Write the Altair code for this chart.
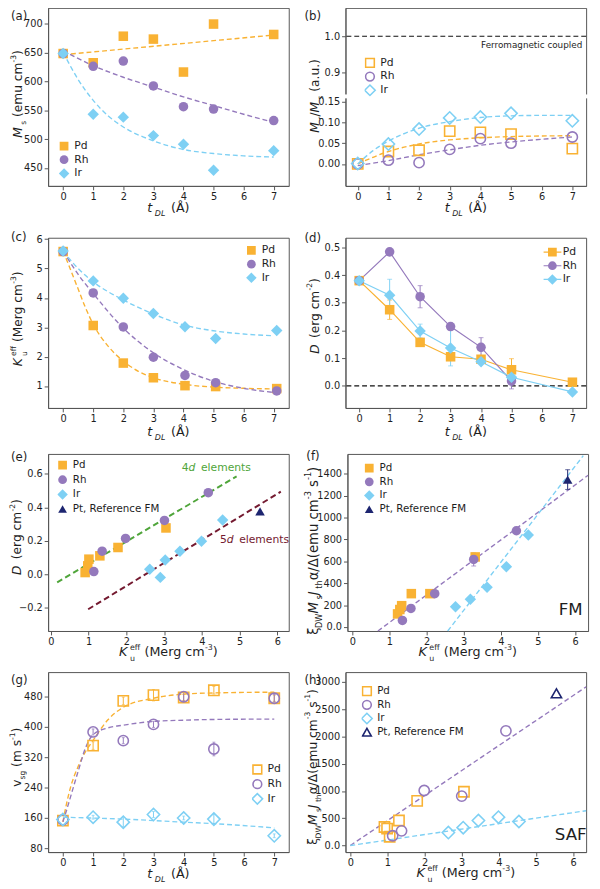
import altair as alt
import pandas as pd

FONT = "DejaVu Sans"
TXT = "#1e1e1e"
AXC = "#555555"
ORANGE = "#F9B233"
PURPLE = "#9479BC"
BLUE = "#7ED0F4"
NAVY = "#1D2570"
GREEN = "#4FA53A"
DARKRED = "#741A30"

W = 246
H1, H2, H3, H4 = 182, 174, 181, 184

NAMES3 = ["Pd", "Rh", "Ir"]
NAMES4 = ["Pd", "Rh", "Ir", "Pt, Reference FM"]

# ---------------- data ----------------
t_dl = [0, 1, 2, 3, 4, 5, 7]
# (a) Ms
a_pd = [648, 632, 678, 673, 616, 699, 681]
a_rh = [648, 626, 635, 592, 556, 552, 532]
a_ir = [648, 543, 538, 506, 491, 446, 480]
a_fit_pd_x = [0, 7]
a_fit_pd_y = [646, 680]
a_fit_rh_x = [0, 1, 2, 3, 4, 5, 6, 7]
a_fit_rh_y = [653, 627, 607, 590, 573, 558, 543, 529]
a_fit_ir_x = [0, 0.5, 1, 1.5, 2, 3, 4, 5, 6, 7]
a_fit_ir_y = [650, 603, 567, 540, 521, 497, 482, 475, 471, 469]

# (b) Mr/Ms
b_pd = [0.000, 0.030, 0.033, 0.079, 0.076, 0.072, 0.037]
b_rh = [0.000, 0.009, 0.003, 0.035, 0.061, 0.050, 0.065]
b_ir = [0.001, 0.048, 0.084, 0.111, 0.113, 0.122, 0.104]
b_fit_x = [0, 1, 2, 3, 4, 5, 7]
b_fit_pd_y = [0.0, 0.030, 0.048, 0.058, 0.063, 0.066, 0.068]
b_fit_rh_y = [-0.004, 0.008, 0.022, 0.034, 0.045, 0.053, 0.065]
b_fit_ir_x = [0, 0.5, 1, 2, 3, 4, 5, 6, 7]
b_fit_ir_y = [0.0, 0.032, 0.055, 0.086, 0.102, 0.112, 0.116, 0.117, 0.117]

# (c) Ku_eff
c_t = [0, 1, 2, 3, 4.05, 5.07, 7.1]
c_pd = [5.58, 3.06, 1.78, 1.28, 1.01, 0.98, 0.91]
c_rh = [5.58, 4.17, 3.01, 1.98, 1.36, 1.11, 0.83]
c_ir = [5.60, 4.58, 3.99, 3.47, 3.02, 2.62, 2.89]
c_fit_pd_x = [0, 0.25, 0.5, 0.75, 1, 1.5, 2, 2.5, 3, 4, 5, 6, 7]
c_fit_pd_y = [5.6, 4.95, 4.3, 3.65, 3.1, 2.35, 1.85, 1.5, 1.28, 1.06, 0.96, 0.92, 0.9]
c_fit_x = [0, 0.5, 1, 2, 3, 4, 5, 6, 7]
c_fit_rh_y = [5.6, 4.8, 4.15, 2.97, 2.13, 1.56, 1.16, 0.92, 0.78]
c_fit_ir_y = [5.6, 5.0, 4.55, 3.93, 3.45, 3.08, 2.88, 2.77, 2.71]

# (d) D vs t_DL
d_t_rh = [0, 1, 2, 3, 4, 5]
d_pd = [0.380, 0.275, 0.157, 0.105, 0.096, 0.058, 0.013]
d_rh = [0.380, 0.484, 0.322, 0.214, 0.139, 0.017]
d_ir = [0.380, 0.327, 0.198, 0.137, 0.087, 0.031, -0.022]
d_err_pd = [0, 0.035, 0, 0, 0, 0.040, 0]
d_err_rh = [0, 0, 0.040, 0, 0.035, 0.028]
d_err_ir = [0, 0.058, 0.025, 0.065, 0, 0, 0]

# (e) D vs Ku_eff
e_pd_k = [3.05, 1.78, 1.30, 1.01, 0.98, 0.91]
e_pd_d = [0.277, 0.160, 0.110, 0.090, 0.050, 0.010]
e_rh_k = [4.17, 3.01, 1.98, 1.36, 1.14]
e_rh_d = [0.488, 0.322, 0.214, 0.138, 0.016]
e_ir_k = [4.55, 3.99, 3.42, 3.03, 2.62, 2.90]
e_ir_d = [0.325, 0.197, 0.138, 0.085, 0.030, -0.019]
e_pt_k = [5.54]
e_pt_d = [0.376]
e_4d_x = [0.17, 4.92]
e_4d_y = [-0.049, 0.586]
e_5d_x = [0.99, 6.09]
e_5d_y = [-0.21, 0.494]

# (f) FM
f_pd_k = [1.22, 1.28, 1.33, 1.59, 2.09, 3.31]
f_pd_y = [120, 160, 195, 305, 305, 640]
f_rh_k = [1.35, 1.58, 2.22, 3.27, 4.42]
f_rh_y = [60, 170, 305, 617, 879]
f_rh_err = [0, 0, 0, 60, 0]
f_ir_k = [2.78, 3.18, 3.63, 4.15, 4.74]
f_ir_y = [185, 253, 363, 551, 840]
f_pt_k = [5.80]
f_pt_y = [1346]
f_pt_err = [90]
f_fit_rh_x = [0.69, 6.35]
f_fit_rh_y = [-36, 1385]
f_fit_ir_x = [2.57, 6.22]
f_fit_ir_y = [-36, 1564]

# (g) velocity
g_pd = [153, 351, 469, 484, 478, 497, 476]
g_rh = [155, 387, 364, 407, 480, 342, 476]
g_ir = [156, 162, 149, 169, 160, 157, 113]
g_err_pd = [0, 10, 10, 15, 8, 10, 8]
g_err_rh = [0, 8, 8, 8, 12, 18, 10]
g_err_ir = [0, 5, 12, 8, 5, 12, 5]
g_fit_x = [0, 0.1, 0.25, 0.5, 0.75, 1, 1.5, 2, 3, 4, 5, 7]
g_fit_pd_y = [150, 190, 240, 295, 335, 365, 420, 452, 476, 487, 490, 492]
g_fit_rh_y = [150, 175, 215, 282, 345, 380, 398, 405, 415, 418, 420, 421]
g_fit_ir_x = [0, 2, 4, 5, 7]
g_fit_ir_y = [162, 157, 149, 145, 134]

# (h) SAF
h_pd_k = [0.92, 0.99, 1.06, 1.31, 1.80, 3.06]
h_pd_y = [340, 310, 161, 459, 818, 986]
h_rh_k = [4.19, 3.00, 1.99, 1.38, 1.14]
h_rh_y = [2103, 907, 1009, 269, 179]
h_ir_k = [2.64, 3.04, 3.45, 3.99, 4.54]
h_ir_y = [238, 328, 459, 520, 441]
h_pt_k = [5.55]
h_pt_y = [2790]
h_fit_rh_x = [0, 6.35]
h_fit_rh_y = [0, 2910]
h_fit_ir_x = [0, 6.35]
h_fit_ir_y = [0, 638]

# ---------------- helpers ----------------
CW = {' ': .318, '(': .39, ')': .39, '-': .361, '/': .337, '.': .318, ',': .318,
      'a': .613, 'b': .635, 'c': .55, 'd': .635, 'e': .615, 'f': .352, 'g': .635,
      'h': .634, 'i': .278, 'l': .278, 'm': .974, 'n': .634, 'o': .612, 'p': .635,
      'r': .411, 's': .521, 't': .392, 'u': .634, 'v': .592,
      'A': .684, 'Å': .684, 'D': .77, 'F': .575, 'K': .656, 'L': .557, 'M': .863,
      'J': .295, 'W': .989, 'R': .695, 'P': .603,
      'α': .659, 'Δ': .684, 'ξ': .52}
for _d in "0123456789":
    CW[_d] = .636


def tw(s, fs):
    return sum(CW.get(c, .6) for c in s) * fs


SHIFT = {"n": 0.0, "sub": 0.33, "subx": 0.4, "sup": -0.52}


def rich(segs, cx, cy, size, vertical=False, color=TXT):
    pieces = []
    pos = 0.0
    for text, kind, it in segs:
        small = kind != "n"
        fs = size * (0.62 if small else 1.0)
        shift = SHIFT[kind] * size
        lead = len(text) - len(text.lstrip(" "))
        trail = len(text) - len(text.rstrip(" "))
        core = text.strip(" ")
        start = pos + lead * CW[" "] * fs
        pieces.append((core, fs, it, start, shift))
        if kind != "subx":
            pos = start + tw(core, fs) + trail * CW[" "] * fs
            if it:
                pos += 0.2 * fs
    total = pos
    out = []
    for text, fs, it, p, shift in pieces:
        if vertical:
            px, py, ang = cx + 0.36 * size + shift, cy + total / 2 - p, 270
        else:
            px, py, ang = cx - total / 2 + p, cy + 0.36 * size + shift, 0
        out.append(
            alt.Chart(pd.DataFrame({"t": [text]}))
            .mark_text(align="left", baseline="alphabetic", angle=ang, font=FONT,
                       fontSize=fs, fontStyle="italic" if it else "normal", color=color)
            .encode(text="t:N", x=alt.value(px), y=alt.value(py))
        )
    return out


def label(txt, x, y, size=12):
    return (alt.Chart(pd.DataFrame({"t": [txt]}))
            .mark_text(align="left", baseline="middle", font=FONT, fontSize=size, color=TXT)
            .encode(text="t:N", x=alt.value(x), y=alt.value(y)))


def ax(values, fmt=None, expr=None):
    kw = dict(values=values, title=None, grid=False, tickSize=4, tickWidth=1,
              tickColor=AXC, domainColor=AXC, domainWidth=1, labelFont=FONT,
              labelFontSize=10, labelColor=TXT, labelPadding=2, labelFlush=False,
              labelOverlap=False)
    if fmt:
        kw["format"] = fmt
    if expr:
        kw["labelExpr"] = expr
    return alt.Axis(**kw)


def sc(dom):
    return alt.Scale(domain=dom, nice=False, zero=False)


def long(xl, yl, names):
    rows = []
    for xs_, ys_, n in zip(xl, yl, names):
        for x, y in zip(xs_, ys_):
            rows.append({"x": x, "y": y, "s": n})
    return pd.DataFrame(rows)


def leg(lx, ly, filled=True, fs=11, clip=13.6, size=80):
    kw = dict(orient="none", legendX=lx, legendY=ly, title=None, labelFont=FONT,
              labelFontSize=fs, labelColor=TXT, symbolSize=size, rowPadding=0,
              clipHeight=clip, labelOffset=5, padding=0, symbolOpacity=1)
    if not filled:
        kw["symbolStrokeWidth"] = 1.6
        kw["symbolFillColor"] = "transparent"
    return alt.Legend(**kw)


class P:
    def __init__(self, xs, ys, xa, ya):
        self.xs, self.ys, self.xa, self.ya = xs, ys, xa, ya

    def X(self, f):
        return alt.X(f, scale=self.xs, axis=self.xa)

    def Y(self, f):
        return alt.Y(f, scale=self.ys, axis=self.ya)

    def scatter(self, df, names, colors, shapes, size, filled, legend, sw=1.6):
        return alt.Chart(df).mark_point(filled=filled, opacity=1, strokeWidth=sw, size=size).encode(
            x=self.X("x:Q"), y=self.Y("y:Q"),
            color=alt.Color("s:N", scale=alt.Scale(domain=names, range=colors), legend=legend),
            shape=alt.Shape("s:N", scale=alt.Scale(domain=names, range=shapes), legend=legend),
        )

    def line(self, xv, yv, color, dash=(5, 3), sw=1.4, interp="monotone"):
        df = pd.DataFrame({"x": xv, "y": yv})
        kw = dict(color=color, strokeWidth=sw, interpolate=interp)
        if dash:
            kw["strokeDash"] = list(dash)
        return alt.Chart(df).mark_line(**kw).encode(x=self.X("x:Q"), y=self.Y("y:Q"))

    def hrule(self, yv, color="#111", dash=(5, 3), sw=1.2):
        return alt.Chart(pd.DataFrame({"y": [yv]})).mark_rule(
            color=color, strokeDash=list(dash), strokeWidth=sw).encode(y=self.Y("y:Q"))

    def err(self, xv, yv, ev, color, cap=5):
        rows = [(x, y - e, y + e) for x, y, e in zip(xv, yv, ev) if e > 0]
        df = pd.DataFrame(rows, columns=["x", "lo", "hi"])
        r = alt.Chart(df).mark_rule(color=color, strokeWidth=1).encode(
            x=self.X("x:Q"), y=self.Y("lo:Q"), y2=alt.Y2("hi:Q"))
        c1 = alt.Chart(df).mark_tick(color=color, orient="horizontal", size=cap, thickness=1).encode(
            x=self.X("x:Q"), y=self.Y("lo:Q"))
        c2 = alt.Chart(df).mark_tick(color=color, orient="horizontal", size=cap, thickness=1).encode(
            x=self.X("x:Q"), y=self.Y("hi:Q"))
        return [r, c1, c2]


T_DL = [("t", "n", True), ("DL", "sub", True), (" (Å)", "n", False)]
MS = [("M", "n", True), ("s", "sub", False), (" (emu cm", "n", False), ("-3", "sup", False), (")", "n", False)]
MRMS = [("M", "n", True), ("r", "sub", False), ("/", "n", False), ("M", "n", True), ("s", "sub", False),
        (" (a.u.)", "n", False)]
KU = [("K", "n", True), ("u", "subx", False), ("eff", "sup", False), (" (Merg cm", "n", False),
      ("-3", "sup", False), (")", "n", False)]
DT = [("D", "n", True), (" (erg cm", "n", False), ("-2", "sup", False), (")", "n", False)]
XI = [("ξ", "n", False), ("DW", "sub", False), ("M", "n", True), ("s", "sub", False), ("J", "n", True),
      ("th", "sub", False), ("α/Δ(emu cm", "n", False), ("-3", "sup", False), (" s", "n", False),
      ("-1", "sup", False), (")", "n", False)]
VSG = [("v", "n", False), ("sg", "sub", False), (" (m s", "n", False), ("-1", "sup", False), (")", "n", False)]

DIAMOND = "M-1.2,0L0,-1.2L1.2,0L0,1.2Z"
COL3 = [ORANGE, PURPLE, BLUE]
COL4 = [ORANGE, PURPLE, BLUE, NAVY]
SHP3 = ["square", "circle", DIAMOND]
SHP4 = ["square", "circle", DIAMOND, "triangle-up"]
SZF = 95
SZO = 110

T_TICKS = [0, 1, 2, 3, 4, 5, 6, 7]
K_TICKS = [0, 1, 2, 3, 4, 5, 6]
XT_L, XT_R = -31, -32
LAB_L, LAB_R = -38, -42


def finish(layers, h, lab, lab_x, lab_y, ysegs, ypos, ysize, xsegs, xoff=22, xsize=13):
    extra = rich(xsegs, W / 2, h + xoff, xsize)
    extra += rich(ysegs, ypos[0], ypos[1], ysize, vertical=True)
    extra.append(label(lab, lab_x, lab_y))
    return alt.layer(*layers, *extra).properties(width=W, height=h)


# ---------------- (a) ----------------
pa = P(sc([-0.5, 7.5]), sc([419, 727]), ax(T_TICKS), ax([450, 500, 550, 600, 650, 700]))
la = [pa.line(a_fit_pd_x, a_fit_pd_y, ORANGE), pa.line(a_fit_rh_x, a_fit_rh_y, PURPLE),
      pa.line(a_fit_ir_x, a_fit_ir_y, BLUE),
      pa.scatter(long([t_dl] * 3, [a_pd, a_rh, a_ir], NAMES3), NAMES3, COL3, SHP3, SZF, True,
                 leg(10.8, 134.4))]
A = finish(la, H1, "(a)", LAB_L, 8, MS, (XT_L, 88), 12.5, T_DL)

# ---------------- (b) ----------------
ys_b = alt.Scale(domain=[-0.053, 0.16, 0.832, 1.079], range=[182, 91.7, 90.7, 0], nice=False, zero=False)
pb = P(sc([-0.4, 7.45]), ys_b, ax(T_TICKS),
       ax([0, 0.05, 0.1, 0.15, 0.9, 1.0],
          expr="datum.value > 0.5 ? format(datum.value, '.1f') : format(datum.value, '.2f')"))
brk = [alt.Chart(pd.DataFrame({"k": [0]})).mark_rect(color="white").encode(
    x=alt.value(xx - 3), x2=alt.value(xx + 3), y=alt.value(88.5), y2=alt.value(92.5)) for xx in (0, W)]
lb = [pb.hrule(1.0),
      pb.line(b_fit_x, b_fit_pd_y, ORANGE), pb.line(b_fit_x, b_fit_rh_y, PURPLE),
      pb.line(b_fit_ir_x, b_fit_ir_y, BLUE),
      pb.scatter(long([t_dl] * 3, [b_pd, b_rh, b_ir], NAMES3), NAMES3, COL3, SHP3, SZO, False,
                 leg(19.5, 49.5, filled=False, clip=13.4)),
      *brk,
      alt.Chart(pd.DataFrame({"t": ["Ferromagnetic coupled"]})).mark_text(
          align="right", baseline="middle", font=FONT, fontSize=9, color=TXT).encode(
          text="t:N", x=alt.value(242), y=alt.value(38))]
B = finish(lb, H1, "(b)", LAB_R, 8, MRMS, (XT_R, 90), 12.5, T_DL)

# ---------------- (c) ----------------
pc = P(sc([-0.5, 7.5]), sc([0.25, 6.05]), ax(T_TICKS), ax([1, 2, 3, 4, 5, 6]))
lc = [pc.line(c_fit_pd_x, c_fit_pd_y, ORANGE), pc.line(c_fit_x, c_fit_rh_y, PURPLE),
      pc.line(c_fit_x, c_fit_ir_y, BLUE),
      pc.scatter(long([c_t] * 3, [c_pd, c_rh, c_ir], NAMES3), NAMES3, COL3, SHP3, SZF, True,
                 leg(202.3, 6.2))]
C = finish(lc, H2, "(c)", LAB_L, -1, KU, (XT_L, 83), 12.5, T_DL, xoff=24)

# ---------------- (d) ----------------
pd_ = P(sc([-0.45, 7.45]), sc([-0.08, 0.535]), ax(T_TICKS), ax([0.0, 0.1, 0.2, 0.3, 0.4, 0.5], fmt=".1f"))
d_line_leg = alt.Legend(orient="none", legendX=201.6, legendY=7.8, title=None, symbolType="stroke",
                        symbolSize=330, symbolStrokeWidth=1.2, labelExpr="''", clipHeight=13.6,
                        rowPadding=0, padding=0, labelOffset=0, labelFontSize=11, symbolOpacity=1)
d_lines = alt.Chart(long([t_dl, d_t_rh, t_dl], [d_pd, d_rh, d_ir], NAMES3)).mark_line(strokeWidth=1.2).encode(
    x=pd_.X("x:Q"), y=pd_.Y("y:Q"),
    color=alt.Color("s:N", scale=alt.Scale(domain=NAMES3, range=COL3), legend=d_line_leg))
ld = [pd_.hrule(0.0), d_lines,
      *pd_.err(t_dl, d_pd, d_err_pd, ORANGE), *pd_.err(d_t_rh, d_rh, d_err_rh, PURPLE),
      *pd_.err(t_dl, d_ir, d_err_ir, BLUE),
      pd_.scatter(long([t_dl, d_t_rh, t_dl], [d_pd, d_rh, d_ir], NAMES3), NAMES3, COL3, SHP3, SZF, True,
                  leg(206, 7.8))]
D = finish(ld, H2, "(d)", LAB_R, 0, DT, (XT_R, 80), 12.5, T_DL, xoff=24).resolve_scale(
    color="independent", shape="independent").resolve_legend(color="independent", shape="independent")

# ---------------- (e) ----------------
pe = P(sc([-0.07, 6.3]), sc([-0.34, 0.72]), ax(K_TICKS), ax([-0.2, 0.0, 0.2, 0.4, 0.6], fmt=".1f"))
le = [pe.line(e_4d_x, e_4d_y, GREEN, dash=(6, 3.5), sw=2, interp="linear"),
      pe.line(e_5d_x, e_5d_y, DARKRED, dash=(6, 3.5), sw=2, interp="linear"),
      pe.scatter(long([e_pd_k, e_rh_k, e_ir_k, e_pt_k], [e_pd_d, e_rh_d, e_ir_d, e_pt_d], NAMES4),
                 NAMES4, COL4, SHP4, SZF, True, leg(9.3, 4.2, fs=10.5, clip=14.3)),
      *rich([("4", "n", False), ("d", "n", True), (" elements", "n", False)], 172, 13.5, 11, color=GREEN),
      *rich([("5", "n", False), ("d", "n", True), (" elements", "n", False)], 211, 87, 11, color=DARKRED)]
E = finish(le, H3, "(e)", LAB_L, 3, DT, (-32, 85), 12.5, KU, xoff=21)

# ---------------- (f) ----------------
pf = P(sc([-0.13, 6.35]), sc([-36, 1580]), ax(K_TICKS),
       ax([0, 200, 400, 600, 800, 1000, 1200, 1400],
          expr="datum.value == 0 ? '0.0' : format(datum.value, 'd')"))
lf = [pf.line(f_fit_rh_x, f_fit_rh_y, PURPLE, interp="linear"),
      pf.line(f_fit_ir_x, f_fit_ir_y, BLUE, interp="linear"),
      *pf.err(f_rh_k, f_rh_y, f_rh_err, PURPLE), *pf.err(f_pt_k, f_pt_y, f_pt_err, NAVY),
      pf.scatter(long([f_pd_k, f_rh_k, f_ir_k, f_pt_k], [f_pd_y, f_rh_y, f_ir_y, f_pt_y], NAMES4),
                 NAMES4, COL4, SHP4, SZF, True, leg(16.8, 7.6, fs=10.5, clip=13.8)),
      label("FM", 216, 160, size=17)]
F = finish(lf, H3, "(f)", LAB_R, 2, XI, (-35, 99), 13.5, KU, xoff=21)

# ---------------- (g) ----------------
pg = P(sc([-0.49, 7.48]), sc([70, 545]), ax(T_TICKS), ax([80, 160, 240, 320, 400, 480]))
lg = [pg.line(g_fit_x, g_fit_pd_y, ORANGE), pg.line(g_fit_x, g_fit_rh_y, PURPLE),
      pg.line(g_fit_ir_x, g_fit_ir_y, BLUE),
      *pg.err(t_dl, g_pd, g_err_pd, ORANGE, cap=3), *pg.err(t_dl, g_rh, g_err_rh, PURPLE, cap=3),
      *pg.err(t_dl, g_ir, g_err_ir, BLUE, cap=3),
      pg.scatter(long([t_dl] * 3, [g_pd, g_rh, g_ir], NAMES3), NAMES3, COL3, SHP3, SZO, False,
                 leg(208.4, 92.5, filled=False, clip=14.2))]
G = finish(lg, H4, "(g)", LAB_L, 8, VSG, (-32, 87), 12.5, T_DL, xoff=22)

# ---------------- (h) ----------------
ph = P(sc([-0.13, 6.35]), sc([-120, 3180]), ax(K_TICKS),
       ax([0, 500, 1000, 1500, 2000, 2500, 3000],
          expr="datum.value == 0 ? '0.0' : format(datum.value, 'd')"))
lh = [ph.line(h_fit_rh_x, h_fit_rh_y, PURPLE, interp="linear"),
      ph.line(h_fit_ir_x, h_fit_ir_y, BLUE, interp="linear"),
      ph.scatter(long([h_pd_k, h_rh_k, h_ir_k, h_pt_k], [h_pd_y, h_rh_y, h_ir_y, h_pt_y], NAMES4),
                 NAMES4, COL4, SHP4, SZO, False, leg(16.4, 12.5, filled=False, fs=10.5, clip=13.9)),
      label("SAF", 214, 166.5, size=17)]
Hh = finish(lh, H4, "(h)", LAB_R, 8, XI, (-34, 97), 12.5, KU, xoff=21)

RS = dict(color="independent", shape="independent")
R = lambda l, r: alt.hconcat(l, r, spacing=14).resolve_scale(**RS).resolve_legend(**RS)

top = alt.vconcat(R(A, B), R(C, D), spacing=11).resolve_scale(**RS)
mid = alt.vconcat(top, R(E, F), spacing=6).resolve_scale(**RS)
chart = alt.vconcat(mid, R(G, Hh), spacing=7).resolve_scale(**RS).properties(
    padding={"left": 0, "top": -11, "right": 0, "bottom": 0}, background="white"
).configure_view(stroke=AXC, strokeWidth=1)

chart.save("out.html", embed_options={"renderer": "svg", "actions": False})
